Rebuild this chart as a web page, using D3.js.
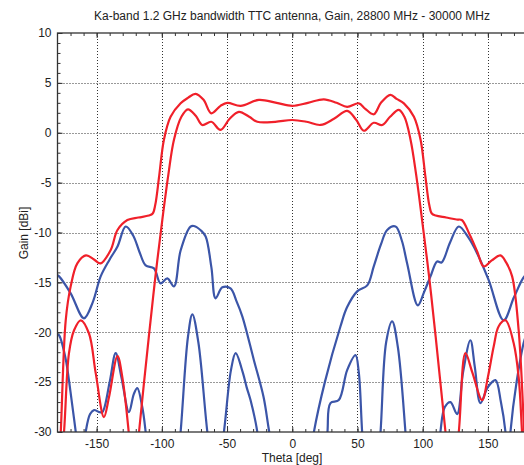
<!DOCTYPE html>
<html>
<head>
<meta charset="utf-8">
<script src="https://cdn.jsdelivr.net/npm/d3@7"></script>
<style>
  body { margin: 0; background: #fff; }
  svg { display: block; font-family: "Liberation Sans", Arial, sans-serif; }
</style>
</head>
<body>
<div id="chart"></div>
<script>
// gain patterns, theta in deg, gain in dBi
// (points below -30 just mean the trace leaves the plot there)
const redUpperTheta = [-180, -177.5, -173.7, -169.9, -164.8, -158.2, -152, -147, -139.2, -134, -126.4, -118, -110, -107, -105, -102, -98.4, -93.3, -85.6, -80, -74.1, -68, -62.1, -55, -49.8, -39.6, -25.6, -12, 0, 12, 24.2, 34, 42.1, 51, 56, 62.5, 68, 75.3, 80, 85.6, 93.3, 98.4, 102, 105, 107, 110, 118, 126, 130, 136, 141.8, 146.8, 153, 159.6, 164, 168.6, 173.6, 177.5, 180];
const redUpperGain  = [-36, -30, -18.8, -15.4, -13.1, -12.3, -12.7, -13.1, -11.75, -9.75, -8.75, -8.5, -8.3, -8.1, -7.2, -4.3, -0.7, 1.6, 2.95, 3.5, 3.9, 3.3, 1.95, 2.7, 3.0, 2.7, 3.3, 3.0, 2.7, 3.0, 3.35, 3.0, 2.6, 2.95, 2.4, 1.85, 3.0, 3.8, 3.4, 2.95, 1.6, -0.7, -4.3, -7.2, -8.1, -8.3, -8.5, -8.7, -8.75, -10.2, -11.9, -13.4, -12.8, -12.3, -13.0, -14.4, -19.8, -29, -36];

const redLowerTheta = [-179, -175, -171.2, -167.3, -162.2, -155.9, -150.7, -144.4, -140.5, -134, -130.3, -125.4, -121.5, -117.5, -110, -105, -99.6, -95, -90.7, -85, -80, -74, -69, -62.1, -55, -48, -40.9, -33, -26.8, -13, 0, 11, 21.7, 32, 42.1, 49, 54.9, 62.5, 69, 75, 81.7, 86, 90.7, 95, 99.5, 105, 110, 117.5, 122.5, 127.7, 132.8, 138, 145.6, 150, 154.5, 158.3, 163.5, 169.8, 173.6, 176.2, 179];
const redLowerGain  = [-36, -30, -22.1, -19.8, -18.8, -20.1, -24.1, -28.5, -26.5, -22.4, -24.5, -30, -36, -30, -20.5, -14.5, -8.7, -4.2, -0.7, 1.6, 2.35, 1.7, 0.78, 1.1, 0.28, 1.4, 2.1, 1.6, 1.1, 1.1, 1.28, 1.1, 0.78, 1.4, 2.2, 1.3, 0.2, 1.0, 0.78, 1.6, 2.3, 1.6, -0.7, -4.2, -8.7, -14.5, -20.5, -30, -36, -30, -22.1, -24, -26.8, -24.5, -21.4, -19.4, -18.8, -21.1, -24.5, -30, -36];

const blueUpperTheta = [-180, -178.8, -169.9, -159.7, -153, -146.9, -140, -134, -127.7, -122, -117, -112.4, -106, -101, -95.8, -90.7, -85.6, -78, -75.4, -70, -66.4, -62, -58.8, -53.6, -47.3, -43, -38.3, -29.4, -22, -17.9, -10, 0, 10, 16.6, 25, 37, 42, 49.8, 57.5, 62.5, 68, 72.8, 79.2, 84, 88.1, 96.3, 101, 106, 111.1, 114.5, 121, 127.7, 135, 141.8, 150.7, 162.1, 170, 178, 180];
const blueUpperGain  = [-14.3, -14.4, -16.1, -18.6, -17, -14.4, -12.7, -11.4, -9.4, -10.3, -12, -13.3, -13.6, -15.1, -14.6, -15.4, -11.8, -9.4, -9.35, -9.8, -10.4, -13.5, -16.6, -15.5, -15.6, -16.8, -18.4, -22.8, -26.5, -29.8, -36, -40, -36, -30, -25, -19.4, -17.5, -15.9, -15.3, -13.4, -11.2, -9.75, -9.4, -10.8, -13.1, -17.3, -16, -14.4, -12.9, -13, -11, -9.4, -10.5, -12.1, -14.8, -18.8, -16.5, -14.4, -14.3];

const blueLowerTheta = [-180, -178.8, -174, -170, -166, -162, -158.4, -155, -152, -148, -145.6, -140, -135.4, -131, -125.2, -121.5, -118.8, -115, -112.4, -108, -90, -85.6, -80, -76.6, -72, -65.1, -59, -52.4, -47, -43.4, -38, -35, -32, -26.8, -23, 0, 24, 27, 29.3, 35.7, 42.1, 48.5, 51, 53.6, 57, 64, 67.7, 72, 76.6, 81, 86.8, 90, 110, 113.6, 117, 121.3, 126.4, 131, 136.6, 140, 144.3, 150, 155.8, 160, 163.5, 165.5, 167.3, 172, 178, 180];
const blueLowerGain  = [-20.2, -20.3, -22.5, -26, -30, -34, -30, -28.2, -27.8, -28, -28, -25, -22.1, -24.5, -28, -26.2, -25.6, -27.5, -30, -36, -36, -30, -20.5, -18.2, -21, -30, -36, -30, -23.8, -22.1, -24, -25.5, -26.8, -30, -36, -45, -36, -30, -27.1, -26.8, -23.8, -22.3, -24, -30, -36, -36, -30, -21, -18.9, -21.5, -30, -36, -36, -30, -27.5, -27, -28.2, -24, -20.8, -23.5, -27.1, -25.5, -24.8, -27, -30, -34, -30, -25, -20.8, -20.2];

const xTicks = [-150, -100, -50, 0, 50, 100, 150];
const yTicks = [10, 5, 0, -5, -10, -15, -20, -25, -30];

const titleText = "Ka-band 1.2 GHz bandwidth TTC antenna, Gain, 28800 MHz - 30000 MHz";

const width = 524, height = 465;
const plotLeft = 57.5, plotTop = 33, plotRight = 527, plotBottom = 432;

const svg = d3.select("#chart").append("svg")
  .attr("width", width)
  .attr("height", height);

const x = d3.scaleLinear().domain([-180, 180]).range([plotLeft, plotRight]);
const y = d3.scaleLinear().domain([-30, 10]).range([plotBottom, plotTop]);

// dotted grid
const grid = svg.append("g")
  .attr("stroke", "#333")
  .attr("stroke-width", 1)
  .attr("stroke-dasharray", "1,2");
grid.selectAll(".vg").data(xTicks).enter().append("line")
  .attr("x1", d => Math.round(x(d)) + 0.5).attr("x2", d => Math.round(x(d)) + 0.5)
  .attr("y1", plotTop).attr("y2", plotBottom);
grid.selectAll(".hg").data(yTicks.slice(1, -1)).enter().append("line")
  .attr("y1", d => Math.round(y(d)) + 0.5).attr("y2", d => Math.round(y(d)) + 0.5)
  .attr("x1", plotLeft).attr("x2", plotRight);

svg.append("clipPath").attr("id", "plot-clip")
  .append("rect")
  .attr("x", plotLeft).attr("y", plotTop)
  .attr("width", plotRight - plotLeft).attr("height", plotBottom - plotTop);

const line = d3.line()
  .x(d => x(d[0]))
  .y(d => y(d[1]))
  .curve(d3.curveCatmullRom.alpha(0.5));

const series = [
  { theta: blueUpperTheta, gain: blueUpperGain, color: "#3b55a8" },
  { theta: blueLowerTheta, gain: blueLowerGain, color: "#3b55a8" },
  { theta: redUpperTheta, gain: redUpperGain, color: "#f0202a" },
  { theta: redLowerTheta, gain: redLowerGain, color: "#f0202a" }
];

svg.append("g")
  .attr("clip-path", "url(#plot-clip)")
  .selectAll("path")
  .data(series)
  .enter().append("path")
    .attr("d", s => line(s.theta.map((t, i) => [t, s.gain[i]])))
    .attr("fill", "none")
    .attr("stroke", s => s.color)
    .attr("stroke-width", 2.2)
    .attr("stroke-linejoin", "round");

// axes, ticks pointing inward; plain hyphen for negatives
const plainFormat = d => String(d);

function styleAxis(g) {
  g.select(".domain").remove();
  g.selectAll("line").attr("stroke", "#333");
  g.selectAll("text").attr("fill", "#222").style("font-size", "12px");
}

svg.append("g")
  .attr("transform", `translate(0,${plotBottom})`)
  .call(d3.axisBottom(x).tickValues(xTicks).tickSize(-5).tickPadding(7).tickFormat(plainFormat))
  .call(styleAxis);
svg.append("g")
  .attr("transform", `translate(0,${plotBottom})`)
  .call(d3.axisBottom(x).tickValues(d3.range(-170, 180, 10)).tickSize(-3).tickFormat(""))
  .call(styleAxis);
svg.append("g")
  .attr("transform", `translate(0,${plotTop})`)
  .call(d3.axisTop(x).tickValues(xTicks).tickSize(-5).tickFormat(""))
  .call(styleAxis);
svg.append("g")
  .attr("transform", `translate(0,${plotTop})`)
  .call(d3.axisTop(x).tickValues(d3.range(-170, 180, 10)).tickSize(-3).tickFormat(""))
  .call(styleAxis);

svg.append("g")
  .attr("transform", `translate(${plotLeft},0)`)
  .call(d3.axisLeft(y).tickValues(yTicks).tickSize(-5).tickPadding(6).tickFormat(plainFormat))
  .call(styleAxis);
svg.append("g")
  .attr("transform", `translate(${plotLeft},0)`)
  .call(d3.axisLeft(y).tickValues(d3.range(-29, 10, 1)).tickSize(-3).tickFormat(""))
  .call(styleAxis);

// frame
svg.append("rect")
  .attr("x", plotLeft).attr("y", plotTop)
  .attr("width", plotRight - plotLeft).attr("height", plotBottom - plotTop)
  .attr("fill", "none")
  .attr("stroke", "#333")
  .attr("stroke-width", 1.3);

svg.append("text")
  .attr("x", 292).attr("y", 19.5)
  .attr("text-anchor", "middle")
  .attr("fill", "#222")
  .style("font-size", "12px")
  .text(titleText);

svg.append("text")
  .attr("x", 292).attr("y", 462)
  .attr("text-anchor", "middle")
  .attr("fill", "#222")
  .style("font-size", "12px")
  .text("Theta [deg]");

svg.append("text")
  .attr("transform", "translate(28,233) rotate(-90)")
  .attr("text-anchor", "middle")
  .attr("fill", "#222")
  .style("font-size", "12px")
  .text("Gain [dBi]");
</script>
</body>
</html>
